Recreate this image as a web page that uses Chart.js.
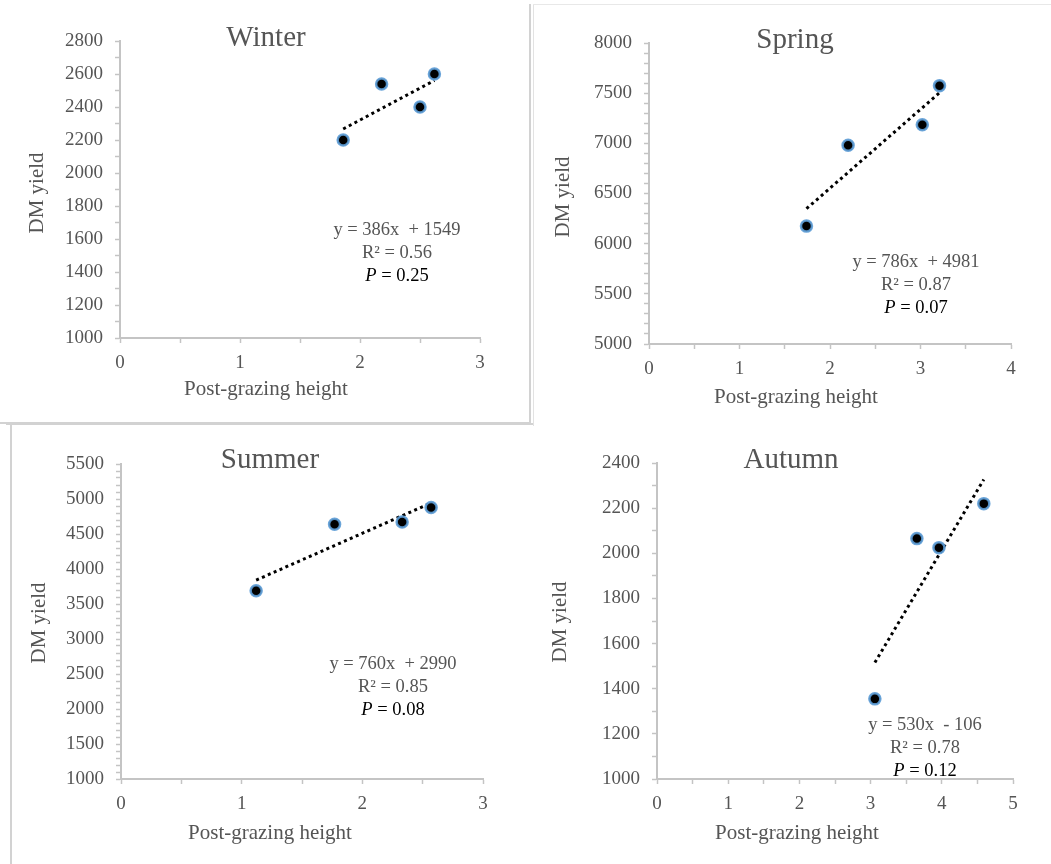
<!DOCTYPE html>
<html>
<head>
<meta charset="utf-8">
<script src="https://cdn.jsdelivr.net/npm/chart.js@4.4.1/dist/chart.umd.min.js"></script>
<style>
  html, body { margin: 0; padding: 0; background: #fff; }
  body { width: 1051px; height: 864px; position: relative; overflow: hidden; }
  canvas { position: absolute; }
  .ln { position: absolute; }
</style>
</head>
<body>
<canvas id="winter" width="530" height="423" style="left:0;top:0"></canvas>
<canvas id="spring" width="521" height="425" style="left:530px;top:0"></canvas>
<canvas id="summer" width="530" height="439" style="left:0;top:425px"></canvas>
<canvas id="autumn" width="521" height="439" style="left:530px;top:425px"></canvas>

<div class="ln" style="left:529px;top:4px;width:2px;height:420px;background:#d2d2d2"></div>
<div class="ln" style="left:0;top:422px;width:531px;height:2px;background:#d2d2d2"></div>
<div class="ln" style="left:533px;top:4px;width:1px;height:422px;background:#e2e2e2"></div>
<div class="ln" style="left:533px;top:4px;width:518px;height:1px;background:#e8e8e8"></div>
<div class="ln" style="left:6px;top:423px;width:527px;height:2px;background:#d2d2d2"></div>
<div class="ln" style="left:10px;top:425px;width:2px;height:439px;background:#d2d2d2"></div>

<script>
// post-grazing height (x) and DM yield (y) per season
const winterX = [1.86, 2.18, 2.50, 2.62];
const winterY = [2200, 2540, 2400, 2600];
const springX = [1.74, 2.20, 3.02, 3.21];
const springY = [6175, 6980, 7185, 7575];
const summerX = [1.12, 1.77, 2.33, 2.57];
const summerY = [3690, 4640, 4670, 4880];
const autumnX = [3.06, 3.65, 3.96, 4.59];
const autumnY = [1355, 2065, 2025, 2220];

// trend lines as printed on the chart
const seasons = ['Winter', 'Spring', 'Summer', 'Autumn'];
const slopes = [386, 786, 760, 530];
const intercepts = [1549, 4981, 2990, -106];
const rSquared = ['0.56', '0.87', '0.85', '0.78'];
const pValues = ['0.25', '0.07', '0.08', '0.12'];

// axis ranges and label steps
const xMax = [3, 4, 3, 5];
const yMin = [1000, 5000, 1000, 1000];
const yMax = [2800, 8000, 5500, 2400];
const yLabelStep = [200, 500, 500, 200];

const GREY = '#555555';
const AXIS = '#c4c4c4';
const SERIF = '"Liberation Serif", "Times New Roman", serif';

// canvas origin, plot box and text anchors (page pixels)
const panels = [
  {id: 'winter', ox: 0, oy: 0, w: 530, h: 423, left: 120, right: 480, top: 41, bottom: 338,
   title: [266, 38], yTitle: [37, 193], xTitle: [266, 389], eq: [397, 230]},
  {id: 'spring', ox: 530, oy: 0, w: 521, h: 425, left: 649, right: 1011, top: 43, bottom: 344,
   title: [795, 40], yTitle: [563, 197], xTitle: [796, 397], eq: [916, 262]},
  {id: 'summer', ox: 0, oy: 425, w: 530, h: 439, left: 121, right: 483, top: 464, bottom: 779,
   title: [270, 460], yTitle: [39, 623], xTitle: [270, 833], eq: [393, 664]},
  {id: 'autumn', ox: 530, oy: 425, w: 521, h: 439, left: 657, right: 1013, top: 463, bottom: 779,
   title: [791, 460], yTitle: [560, 622], xTitle: [797, 833], eq: [925, 725]}
];

const xs = [winterX, springX, summerX, autumnX];
const ys = [winterY, springY, summerY, autumnY];

const panelText = {
  id: 'panelText',
  afterDraw(chart, args, o) {
    const ctx = chart.ctx;
    const p = panels[o.index];
    const i = o.index;
    ctx.save();
    ctx.textAlign = 'center';
    ctx.textBaseline = 'middle';
    ctx.fillStyle = GREY;
    ctx.font = '29px ' + SERIF;
    ctx.fillText(seasons[i], p.title[0] - p.ox, p.title[1] - p.oy);
    ctx.font = '21px ' + SERIF;
    ctx.fillText('Post-grazing height', p.xTitle[0] - p.ox, p.xTitle[1] - p.oy);
    ctx.save();
    ctx.translate(p.yTitle[0] - p.ox, p.yTitle[1] - p.oy);
    ctx.rotate(-Math.PI / 2);
    ctx.fillText('DM yield', 0, 0);
    ctx.restore();

    const ex = p.eq[0] - p.ox, ey = p.eq[1] - p.oy;
    const sign = intercepts[i] < 0 ? ' - ' : ' + ';
    ctx.font = '18.5px ' + SERIF;
    ctx.fillText('y = ' + slopes[i] + 'x ' + sign + Math.abs(intercepts[i]), ex, ey);
    ctx.fillText('R\u00B2 = ' + rSquared[i], ex, ey + 23);

    ctx.fillStyle = '#000';
    ctx.textAlign = 'left';
    ctx.font = 'italic 18.5px ' + SERIF;
    const pw = ctx.measureText('P').width;
    ctx.font = '18.5px ' + SERIF;
    const rest = ' = ' + pValues[i];
    const rw = ctx.measureText(rest).width;
    const sx = ex - (pw + rw) / 2;
    ctx.font = 'italic 18.5px ' + SERIF;
    ctx.fillText('P', sx, ey + 46);
    ctx.font = '18.5px ' + SERIF;
    ctx.fillText(rest, sx + pw, ey + 46);
    ctx.restore();
  }
};

panels.forEach((p, i) => {
  const x = xs[i], y = ys[i];
  const lo = Math.min(...x), hi = Math.max(...x);
  const trend = [
    {x: lo, y: slopes[i] * lo + intercepts[i]},
    {x: hi, y: slopes[i] * hi + intercepts[i]}
  ];
  const canvas = document.getElementById(p.id);
  new Chart(canvas.getContext('2d'), {
    type: 'scatter',
    data: {
      datasets: [
        {
          label: seasons[i],
          data: x.map((v, k) => ({x: v, y: y[k]})),
          backgroundColor: '#000',
          borderColor: 'rgba(91,155,213,0.9)',
          borderWidth: 2.5,
          pointRadius: 5.5,
          pointHoverRadius: 5.5,
          order: 0
        },
        {
          label: 'trend',
          data: trend,
          showLine: true,
          pointRadius: 0,
          borderColor: '#000',
          borderWidth: 3,
          borderDash: [3, 3.4],
          borderCapStyle: 'butt',
          order: 1
        }
      ]
    },
    options: {
      responsive: false,
      devicePixelRatio: 1,
      animation: false,
      layout: {
        padding: {left: 0, top: p.top - p.oy, right: p.ox + p.w - p.right, bottom: 0}
      },
      plugins: {
        legend: {display: false},
        tooltip: {enabled: false},
        panelText: {index: i}
      },
      scales: {
        x: {
          type: 'linear',
          min: 0,
          max: xMax[i],
          afterFit(s) { s.height = p.oy + p.h - p.bottom; },
          border: {color: AXIS, width: 2},
          grid: {drawOnChartArea: false, color: AXIS, tickLength: 5, tickWidth: 1.5},
          ticks: {
            stepSize: 0.5,
            color: GREY,
            font: {family: SERIF, size: 19},
            padding: 9,
            maxRotation: 0,
            callback: v => (Number.isInteger(v) ? String(v) : '')
          }
        },
        y: {
          type: 'linear',
          min: yMin[i],
          max: yMax[i],
          afterFit(s) { s.width = p.left - p.ox; },
          border: {color: AXIS, width: 2},
          grid: {drawOnChartArea: false, color: AXIS, tickLength: 5, tickWidth: 1.5},
          ticks: {
            stepSize: 100,
            autoSkip: false,
            color: GREY,
            font: {family: SERIF, size: 19},
            padding: 12,
            callback: v => (v % yLabelStep[i] === 0 ? String(v) : '')
          }
        }
      }
    },
    plugins: [panelText]
  });
});
</script>
</body>
</html>
